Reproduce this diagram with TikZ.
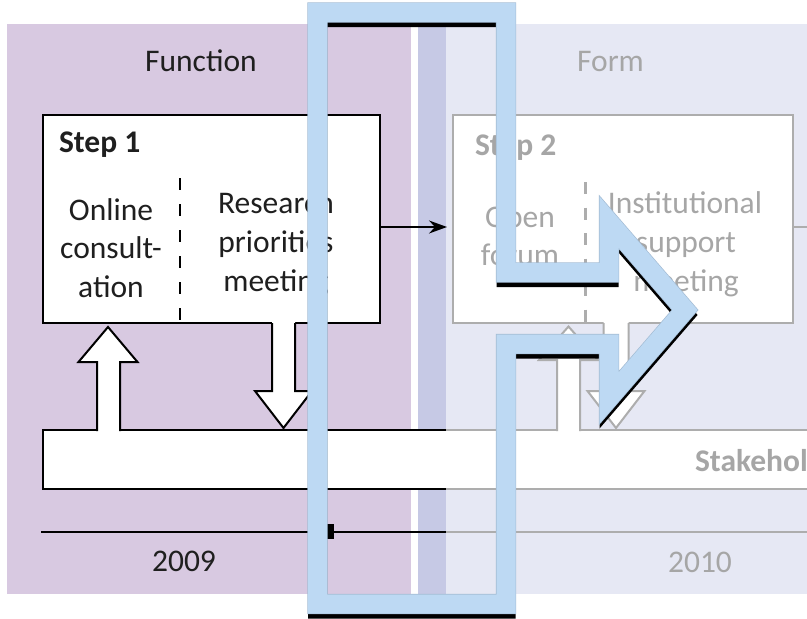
\documentclass[tikz,border=0pt]{standalone}
\usepackage{fontspec}
\setmainfont{Carlito}
\usetikzlibrary{arrows.meta}
\definecolor{purp}{HTML}{D8C9E1}
\definecolor{stripc}{HTML}{C6C9E5}
\definecolor{formbg}{HTML}{E6E8F4}
\definecolor{blueov}{HTML}{BDD9F3}
\definecolor{blueedge}{HTML}{A3BCD4}
\definecolor{fgray}{HTML}{A6A6A6}
\definecolor{lgray}{HTML}{ADADAD}
\def\ovpath{(317.5,12.5) -- (506,12.5) -- (506,272.5) -- (609,272.5) -- (609,222) -- (685,310) -- (609,398) -- (609,344) -- (506,344) -- (506,604) -- (317.5,604) -- cycle}
\begin{document}
\begin{tikzpicture}[x=1pt,y=-1pt,
  every node/.style={inner sep=0pt,outer sep=0pt},
  txt/.style={font=\fontsize{31.5}{39}\selectfont, anchor=base, text=black!88},
  gtxt/.style={txt, text=fgray},
  btxt/.style={font=\fontsize{31.5}{39}\selectfont\bfseries, anchor=base west, text=black!88},
  gbtxt/.style={btxt, text=fgray},
  blk/.style={draw=black, line width=2pt},
  gln/.style={draw=lgray, line width=2pt},
  ovline/.style={line width=19pt, line join=miter}]
\useasboundingbox (0,0) rectangle (807,619);
\clip (0,0) rectangle (807,619);
% backgrounds
\fill[white] (0,0) rectangle (807,619);
\fill[purp] (7,24) rectangle (411,594);
\fill[stripc] (418,24) rectangle (446,594);
\fill[formbg] (446,24) rectangle (807,594);
% titles
\node[txt] (fn) at (201,71) {Function};
\node[gtxt] (fm) at (610.5,71) {Form};
% step boxes
\node[blk, fill=white, minimum width=337pt, minimum height=208pt, anchor=north west] (s1) at (43,115) {};
\node[gln, fill=white, minimum width=340pt, minimum height=208pt, anchor=north west] (s2) at (453,115) {};
\draw[black, line width=2.5pt, dash pattern=on 12pt off 14pt] (180,178) -- (180,322);
\draw[lgray, line width=2.5pt, dash pattern=on 12pt off 13.5pt] (585.5,182) -- (585.5,322);
\node[btxt] (st1) at (59,152) {Step 1};
\node[gbtxt] (st2) at (475,155) {Step 2};
\node[txt] (oc1) at (111,220) {Online};
\node[txt] (oc2) at (111,258.5) {consult-};
\node[txt] (oc3) at (111,297) {ation};
\node[txt] (rp1) at (276,213) {Research};
\node[txt] (rp2) at (276,252) {priorities};
\node[txt] (rp3) at (276,291) {meeting};
\node[gtxt] (of1) at (520,227) {Open};
\node[gtxt] (of2) at (520,265) {forum};
\node[gtxt] (is1) at (685,213) {Institutional};
\node[gtxt] (is2) at (686,252) {support};
\node[gtxt] (is3) at (686,291) {meeting};
% connector between steps
\coordinate (a1) at (380,227);
\coordinate (a2) at (447,227);
\coordinate (a3) at (793,227);
\coordinate (a4) at (810,227);
\draw[line width=1.8pt, -{Stealth[length=18pt,width=13pt,inset=6pt]}] (a1) -- (a2);
\draw[gln] (a3) -- (a4);
% stakeholder bar
\node[fill=white, minimum width=790pt, minimum height=59pt, anchor=north west] (bar) at (43,430) {};
\draw[blk] (446,430) -| (43,489) -- (446,489);
\draw[gln] (446,430) -- (810,430);
\draw[gln] (446,489) -- (810,489);
\node[gbtxt] (sh) at (695,471) {Stakehol};
% block arrows step 1
\fill[white] (97,432) -- (97,362) -- (78.5,362) -- (108,327) -- (137.5,362) -- (120,362) -- (120,432) -- cycle;
\draw[blk] (97,431) -- (97,362) -- (78.5,362) -- (108,327) -- (137.5,362) -- (120,362) -- (120,431);
\fill[white] (272,321) -- (272,391) -- (255,391) -- (283.5,428) -- (312,391) -- (295,391) -- (295,321) -- cycle;
\draw[blk] (272,323) -- (272,391) -- (255,391) -- (283.5,428) -- (312,391) -- (295,391) -- (295,323);
% block arrows step 2
\fill[white] (557,432) -- (557,360) -- (539,360) -- (568.5,326.5) -- (598,360) -- (580,360) -- (580,432) -- cycle;
\draw[gln] (557,431) -- (557,360) -- (539,360) -- (568.5,326.5) -- (598,360) -- (580,360) -- (580,431);
\fill[white] (603.5,321) -- (603.5,391) -- (587.5,391) -- (616,428) -- (644.5,391) -- (628.5,391) -- (628.5,321) -- cycle;
\draw[gln] (603.5,323) -- (603.5,391) -- (587.5,391) -- (616,428) -- (644.5,391) -- (628.5,391) -- (628.5,323);
% timeline
\draw[black, line width=1.8pt] (41,532) -- (446,532);
\draw[lgray, line width=1.8pt] (446,532) -- (810,532);
\fill[black] (325,524) rectangle (334,539);
\node[txt] (y1) at (184,571) {2009};
\node[gtxt] (y2) at (700,572) {2010};
% blue overlay outline with shadow
\draw[black, ovline, yshift=-5pt] \ovpath;
\draw[blueedge, line width=20.4pt, line join=miter] \ovpath;
\draw[blueov, ovline] \ovpath;
\end{tikzpicture}
\end{document}
